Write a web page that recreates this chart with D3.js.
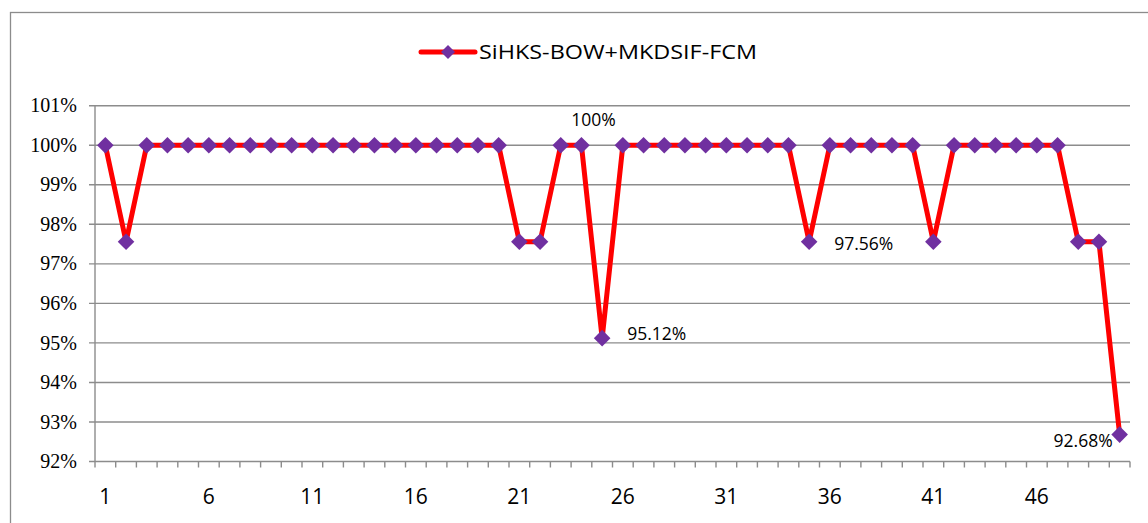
<!DOCTYPE html>
<html><head><meta charset="utf-8">
<script src="https://cdn.jsdelivr.net/npm/d3@7"></script>
<style>body{margin:0;background:#fff}svg{display:block}
.ylab{font-family:"Liberation Serif","Times New Roman",Times,"DejaVu Serif",serif}</style>
</head><body>
<svg id="c" width="1148" height="523"></svg>
<script>
const categories = d3.range(1, 51);
const seriesName = "SiHKS-BOW+MKDSIF-FCM";
const values = [100, 97.56, 100, 100, 100, 100, 100, 100, 100, 100,
  100, 100, 100, 100, 100, 100, 100, 100, 100, 100,
  97.56, 97.56, 100, 100, 95.12, 100, 100, 100, 100, 100,
  100, 100, 100, 100, 97.56, 100, 100, 100, 100, 100,
  97.56, 100, 100, 100, 100, 100, 100, 97.56, 97.56, 92.68];
const yTicks = [92, 93, 94, 95, 96, 97, 98, 99, 100, 101];
const xTickLabels = [1, 6, 11, 16, 21, 26, 31, 36, 41, 46];
const annotations = [
  {i: 24, text: "100%", dx: 12, dy: -25, anchor: "middle"},
  {i: 25, text: "95.12%", dx: 25, dy: -4, anchor: "start"},
  {i: 35, text: "97.56%", dx: 25, dy: 2, anchor: "start"},
  {i: 50, text: "92.68%", dx: -7, dy: 6, anchor: "end"}
];

const svg = d3.select("#c");
const L = 95, R = 1130, T = 105.7, B = 461.5;
const sans = "'Open Sans', 'Noto Sans', sans-serif";

// outer border
svg.append("rect").attr("x", 10.5).attr("y", 12.5).attr("width", 1160).attr("height", 540)
  .attr("fill", "none").attr("stroke", "#8c8c8c").attr("stroke-width", 1.3);

const x = d3.scaleBand().domain(categories).range([L, R]).padding(0);
const y = d3.scaleLinear().domain([92, 101]).range([B, T]);

// gridlines
svg.append("g").selectAll("line").data(yTicks).join("line")
  .attr("x1", L - 6).attr("x2", R).attr("y1", d => y(d)).attr("y2", d => y(d))
  .attr("stroke", "#8c8c8c").attr("stroke-width", 1.4);

// y axis line
svg.append("line").attr("x1", L).attr("x2", L).attr("y1", T).attr("y2", B)
  .attr("stroke", "#8c8c8c").attr("stroke-width", 1.4);

// y labels
svg.append("g").selectAll("text").data(yTicks).join("text")
  .attr("class", "ylab")
  .attr("x", L - 18).attr("y", d => y(d)).attr("dy", "0.33em")
  .attr("text-anchor", "end")
  .attr("font-size", 20).attr("fill", "#000")
  .text(d => d + "%");

// x ticks (between categories)
const boundaries = categories.map(c => x(c)).concat([R]);
svg.append("g").selectAll("line").data(boundaries).join("line")
  .attr("x1", d => d).attr("x2", d => d).attr("y1", B).attr("y2", B + 6)
  .attr("stroke", "#8c8c8c").attr("stroke-width", 1.4);

// x labels
svg.append("g").selectAll("text").data(xTickLabels).join("text")
  .attr("x", d => x(d) + x.bandwidth() / 2).attr("y", 504)
  .attr("text-anchor", "middle")
  .style("font-family", sans)
  .attr("font-size", 21).attr("fill", "#000")
  .text(d => d);

const cx = i => x(categories[i]) + x.bandwidth() / 2;

// line
const line = d3.line().x((d, i) => cx(i)).y(d => y(d));
svg.append("path").datum(values).attr("d", line)
  .attr("fill", "none").attr("stroke", "#ff0000").attr("stroke-width", 5)
  .attr("stroke-linejoin", "round").attr("stroke-linecap", "round");

// markers
const diamond = (cxv, cyv, r) => `M${cxv},${cyv - r}L${cxv + r},${cyv}L${cxv},${cyv + r}L${cxv - r},${cyv}Z`;
svg.append("g").selectAll("path").data(values).join("path")
  .attr("d", (d, i) => diamond(cx(i), y(d), 8.3))
  .attr("fill", "#7030a0");

// annotations
svg.append("g").selectAll("text").data(annotations).join("text")
  .attr("x", d => cx(d.i - 1) + d.dx)
  .attr("y", d => y(values[d.i - 1]) + d.dy)
  .attr("dy", "0.35em")
  .attr("text-anchor", d => d.anchor)
  .style("font-family", sans)
  .attr("font-size", 17.5).attr("fill", "#000")
  .text(d => d.text);

// legend
const lg = svg.append("g");
lg.append("line").attr("x1", 421).attr("x2", 475).attr("y1", 52).attr("y2", 52)
  .attr("stroke", "#ff0000").attr("stroke-width", 5).attr("stroke-linecap", "round");
lg.append("path").attr("d", diamond(448, 52, 7)).attr("fill", "#7030a0");
lg.append("text").attr("x", 479).attr("y", 52).attr("dy", "0.35em")
  .style("font-family", sans)
  .attr("font-size", 20).attr("fill", "#000")
  .attr("textLength", 278).attr("lengthAdjust", "spacingAndGlyphs")
  .text(seriesName);
</script>
</body></html>
